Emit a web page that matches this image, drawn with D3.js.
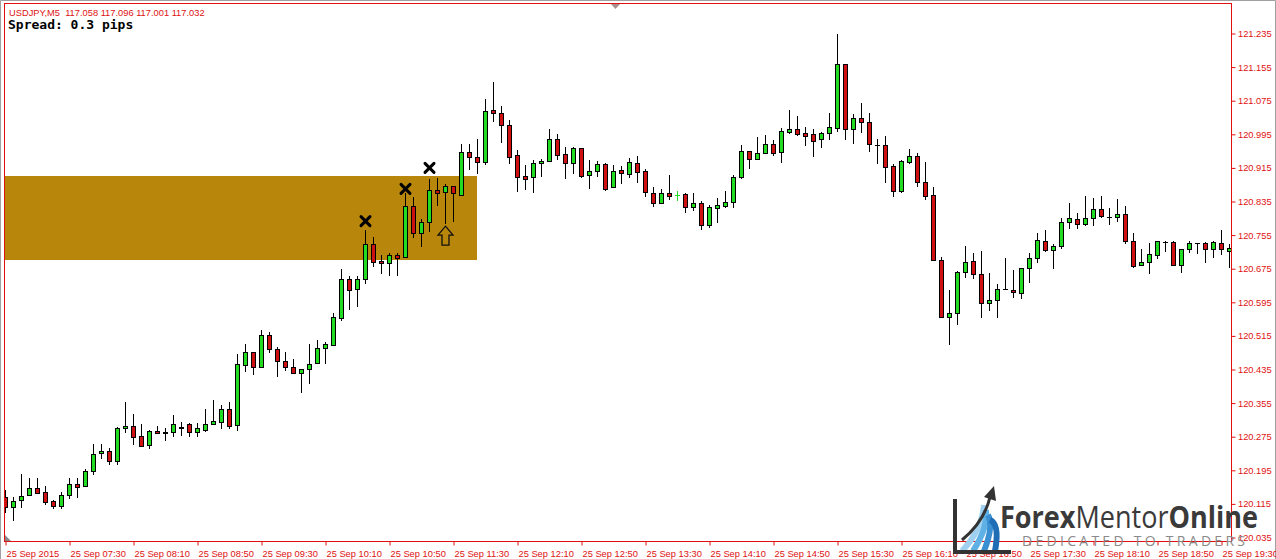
<!DOCTYPE html>
<html><head><meta charset="utf-8">
<script src="https://cdn.jsdelivr.net/npm/d3@7"></script>
<style>html,body{margin:0;padding:0;background:#fff;overflow:hidden}</style>
</head><body>
<svg id="chart" width="1276" height="559"></svg>
<script>
// ---- data ----
const tickLabels = ["25 Sep 2015","25 Sep 07:30","25 Sep 08:10","25 Sep 08:50","25 Sep 09:30","25 Sep 10:10","25 Sep 10:50","25 Sep 11:30","25 Sep 12:10","25 Sep 12:50","25 Sep 13:30","25 Sep 14:10","25 Sep 14:50","25 Sep 15:30","25 Sep 16:10","25 Sep 16:50","25 Sep 17:30","25 Sep 18:10","25 Sep 18:50","25 Sep 19:30"];
const priceTicks = [121.235,121.155,121.075,120.995,120.915,120.835,120.755,120.675,120.595,120.515,120.435,120.355,120.275,120.195,120.115,120.035];

const openP = [120.130,120.106,120.123,120.135,120.152,120.142,120.121,120.109,120.135,120.161,
120.156,120.192,120.235,120.240,120.216,120.295,120.299,120.275,120.254,120.287,
120.283,120.285,120.295,120.304,120.285,120.290,120.304,120.309,120.340,120.302,
120.445,120.475,120.440,120.516,120.483,120.454,120.440,120.425,120.435,120.449,
120.485,120.492,120.556,120.649,120.625,120.649,120.733,120.692,120.687,120.706,
120.702,120.823,120.759,120.785,120.861,120.856,120.871,120.849,120.952,120.940,
120.928,121.052,121.045,121.016,120.945,120.895,120.892,120.926,120.930,120.983,
120.947,120.926,120.961,120.897,120.906,120.923,120.868,120.909,120.899,120.926,
120.906,120.854,120.830,120.854,120.849,120.852,120.821,120.830,120.778,120.818,
120.823,120.833,120.892,120.954,120.935,120.949,120.971,120.952,120.999,121.006,
120.997,120.995,120.983,120.997,121.009,121.161,121.006,121.033,121.023,120.968,
120.968,120.918,120.859,120.928,120.942,120.880,120.849,120.695,120.559,120.568,
120.666,120.692,120.661,120.592,120.599,120.625,120.623,120.616,120.675,120.699,
120.740,120.718,120.728,120.785,120.792,120.780,120.795,120.816,120.797,120.797,
120.804,120.740,120.683,120.690,120.706,120.737,120.737,120.683,120.721,120.735,
120.735,120.721,120.735,120.716];
const highP = [120.147,120.130,120.185,120.175,120.175,120.156,120.123,120.142,120.175,120.175,
120.197,120.256,120.256,120.247,120.297,120.356,120.328,120.304,120.290,120.299,
120.295,120.325,120.309,120.306,120.306,120.340,120.361,120.349,120.356,120.471,
120.495,120.475,120.528,120.523,120.487,120.475,120.459,120.435,120.495,120.504,
120.499,120.568,120.673,120.656,120.656,120.766,120.749,120.706,120.711,120.711,
120.854,120.845,120.792,120.887,120.890,120.875,120.871,120.971,120.971,120.983,
121.078,121.118,121.061,121.028,120.956,120.921,120.933,120.935,121.006,120.995,
120.964,120.964,120.961,120.933,120.930,120.926,120.921,120.918,120.937,120.942,
120.911,120.868,120.864,120.897,120.859,120.854,120.854,120.835,120.825,120.842,
120.859,120.897,120.968,120.954,120.987,120.992,120.980,121.009,121.052,121.037,
121.011,121.006,120.999,121.045,121.233,121.161,121.042,121.068,121.045,120.983,
120.990,120.923,120.933,120.959,120.949,120.928,120.868,120.702,120.623,120.668,
120.728,120.711,120.716,120.664,120.637,120.699,120.671,120.675,120.711,120.759,
120.766,120.733,120.795,120.830,120.806,120.847,120.842,120.847,120.818,120.840,
120.823,120.759,120.721,120.735,120.740,120.740,120.740,120.721,120.740,120.735,
120.737,120.740,120.766,120.733];
const lowP = [120.095,120.075,120.106,120.135,120.140,120.114,120.104,120.104,120.128,120.130,
120.156,120.185,120.223,120.209,120.209,120.285,120.256,120.252,120.247,120.283,
120.266,120.275,120.278,120.275,120.275,120.287,120.304,120.295,120.295,120.290,
120.430,120.423,120.440,120.475,120.418,120.433,120.425,120.380,120.402,120.449,
120.449,120.492,120.552,120.578,120.585,120.640,120.680,120.664,120.659,120.659,
120.702,120.749,120.728,120.764,120.825,120.783,120.787,120.849,120.911,120.902,
120.923,121.026,120.976,120.926,120.859,120.864,120.856,120.895,120.930,120.935,
120.890,120.902,120.892,120.866,120.895,120.861,120.868,120.878,120.892,120.880,
120.847,120.823,120.830,120.840,120.837,120.809,120.814,120.768,120.773,120.785,
120.821,120.821,120.890,120.914,120.935,120.949,120.945,120.928,120.997,120.992,
120.968,120.942,120.964,120.983,121.002,120.983,120.973,120.999,120.954,120.926,
120.880,120.847,120.856,120.926,120.871,120.840,120.695,120.559,120.495,120.542,
120.654,120.652,120.559,120.575,120.559,120.625,120.606,120.604,120.642,120.690,
120.716,120.675,120.723,120.771,120.771,120.778,120.778,120.797,120.780,120.787,
120.735,120.678,120.683,120.664,120.699,120.716,120.683,120.666,120.714,120.711,
120.690,120.702,120.709,120.678];
const closeP = [120.106,120.121,120.133,120.152,120.140,120.118,120.109,120.135,120.161,120.154,
120.192,120.233,120.240,120.216,120.295,120.299,120.273,120.252,120.287,120.283,
120.284,120.304,120.296,120.285,120.295,120.304,120.311,120.340,120.299,120.447,
120.475,120.440,120.516,120.483,120.454,120.440,120.425,120.435,120.447,120.485,
120.495,120.559,120.649,120.623,120.649,120.733,120.690,120.687,120.706,120.699,
120.823,120.759,120.785,120.861,120.854,120.871,120.854,120.952,120.940,120.928,
121.049,121.045,121.016,120.940,120.892,120.887,120.926,120.930,120.983,120.945,
120.926,120.961,120.895,120.906,120.923,120.864,120.906,120.902,120.928,120.904,
120.856,120.830,120.854,120.847,120.850,120.821,120.830,120.778,120.821,120.825,
120.833,120.892,120.954,120.935,120.949,120.971,120.949,121.002,121.006,120.995,
120.990,120.978,120.997,121.011,121.161,121.006,121.033,121.023,120.971,120.968,
120.916,120.859,120.930,120.942,120.880,120.847,120.695,120.559,120.568,120.666,
120.690,120.661,120.592,120.599,120.625,120.625,120.618,120.675,120.699,120.742,
120.718,120.728,120.785,120.795,120.780,120.795,120.816,120.799,120.797,120.804,
120.740,120.680,120.690,120.709,120.740,120.737,120.683,120.721,120.735,120.735,
120.721,120.737,120.721,120.723];

const zoneTop = 120.895, zoneBottom = 120.695, zoneEndIndex = 59;
const crossIndex = [45, 50, 53];
const crossPrice = [120.787, 120.864, 120.914];
const arrowIndex = 55, arrowTopPrice = 120.775, arrowBottomPrice = 120.730;

const headerText = "USDJPY,M5  117.058 117.096 117.001 117.032";
const spreadText = "Spread: 0.3 pips";

// ---- layout ----
const svg = d3.select("#chart");
const frame = {left: 4, top: 3, right: 1231, bottom: 541};
const n = openP.length;
const x = d3.scaleLinear().domain([0, n - 1]).range([5, 5 + (n - 1) * 8]);
const y = d3.scaleLinear().domain([120.035, 121.235]).range([537, 33]);
const GREEN = "#22dc22", RED = "#cf1010", AXIS = "#e01010";

// window border
svg.append("path").attr("d","M0.5,559 V0.5 H1275.5 V559").attr("fill","none").attr("stroke","#a0a0a0");

svg.append("clipPath").attr("id","plotclip").append("rect")
  .attr("x", frame.left + 1).attr("y", frame.top + 1)
  .attr("width", frame.right - frame.left - 1).attr("height", frame.bottom - frame.top - 1);

const plot = svg.append("g").attr("clip-path","url(#plotclip)");

// zone
plot.append("rect")
  .attr("x", frame.left).attr("y", Math.round(y(zoneTop)))
  .attr("width", Math.round(x(zoneEndIndex)) - frame.left)
  .attr("height", Math.round(y(zoneBottom)) - Math.round(y(zoneTop)))
  .attr("fill", "#b8860b");

// candles
const data = d3.range(n).map(i => ({i, o: openP[i], h: highP[i], l: lowP[i], c: closeP[i]}));
const cg = plot.append("g");
data.forEach(d => {
  const cx = Math.round(x(d.i));
  const yT = Math.round(y(Math.max(d.o, d.c)));
  const yB = Math.round(y(Math.min(d.o, d.c)));
  const hgt = yB - yT;
  const up = d.c > d.o;
  const doji = hgt < 1;
  const lineCol = doji && up ? GREEN : "#000";
  cg.append("line").attr("x1", cx + 0.5).attr("x2", cx + 0.5)
    .attr("y1", Math.round(y(d.h))).attr("y2", Math.round(y(d.l)) + 1)
    .attr("stroke", lineCol).attr("stroke-width", 1);
  if (doji) {
    cg.append("line").attr("x1", cx - 2).attr("x2", cx + 3)
      .attr("y1", yT + 0.5).attr("y2", yT + 0.5)
      .attr("stroke", lineCol).attr("stroke-width", 1);
  } else {
    cg.append("rect").attr("x", cx - 1.5).attr("y", yT + 0.5)
      .attr("width", 4).attr("height", hgt)
      .attr("fill", up ? GREEN : RED).attr("stroke", "#000").attr("stroke-width", 1);
  }
});

// cross markers
crossIndex.forEach((ci, k) => {
  const cx = x(ci) + 0.5, cy = y(crossPrice[k]);
  const s = 4.5;
  plot.append("path")
    .attr("d", `M${cx - s},${cy - s}L${cx + s},${cy + s}M${cx + s},${cy - s}L${cx - s},${cy + s}`)
    .attr("stroke", "#000").attr("stroke-width", 3).attr("stroke-linecap", "round").attr("fill", "none");
});

// arrow marker
{
  const ax = x(arrowIndex) + 0.5, yt = y(arrowTopPrice), yb = y(arrowBottomPrice);
  const hw = 7.5, sw = 3.5, hh = 9;
  plot.append("path")
    .attr("d", `M${ax},${yt} L${ax + hw},${yt + hh} L${ax + sw},${yt + hh} L${ax + sw},${yb} L${ax - sw},${yb} L${ax - sw},${yt + hh} L${ax - hw},${yt + hh} Z`)
    .attr("fill", "none").attr("stroke", "#111").attr("stroke-width", 1.3).attr("stroke-linejoin","miter");
}

// frame
svg.append("rect").attr("x", frame.left + 0.5).attr("y", frame.top + 0.5)
  .attr("width", frame.right - frame.left).attr("height", frame.bottom - frame.top)
  .attr("fill", "none").attr("stroke", AXIS);

// top shift marker
svg.append("path").attr("d", `M611,${frame.top + 1} L620,${frame.top + 1} L615.5,${frame.top + 6} Z`).attr("fill", "#a89090");
// bottom-left corner marker
svg.append("path").attr("d", `M${frame.left + 1},${frame.bottom - 6} L${frame.left + 1},${frame.bottom} L${frame.left + 7},${frame.bottom} Z`).attr("fill", "#888");

// x axis
const xAxis = d3.axisBottom(x).tickValues(d3.range(0, n, 8)).tickFormat((d, i) => tickLabels[i]).tickSize(4).tickSizeOuter(0);
const gx = svg.append("g").attr("transform", `translate(0.5,${frame.bottom + 0.5})`).call(xAxis);
gx.select(".domain").remove();
gx.selectAll(".tick line").attr("stroke", AXIS);
gx.selectAll(".tick text").attr("text-anchor", "start").attr("x", 0.5).attr("y", 9).attr("dy", "0.71em")
  .attr("fill", AXIS).style("font-family", "'Liberation Sans', Arial, sans-serif").style("font-size", "9.3px");

// y axis
const yAxis = d3.axisRight(y).tickValues(priceTicks).tickFormat(d3.format(".3f")).tickSize(4).tickSizeOuter(0);
const gy = svg.append("g").attr("transform", `translate(${frame.right + 0.5},0.5)`).call(yAxis);
gy.select(".domain").remove();
gy.selectAll(".tick line").attr("stroke", AXIS);
gy.selectAll(".tick text").attr("x", 6.5).attr("fill", AXIS)
  .style("font-family", "'Liberation Sans', Arial, sans-serif").style("font-size", "9.3px");

// header texts
svg.append("text").attr("x", 9).attr("y", 16).text(headerText)
  .attr("fill", AXIS).style("font-family", "'Liberation Sans', Arial, sans-serif").style("font-size", "9.3px")
  .style("white-space", "pre").attr("xml:space", "preserve");
svg.append("text").attr("x", 8).attr("y", 29).text(spreadText)
  .attr("fill", "#000").style("font-family", "'DejaVu Sans Mono', monospace").style("font-weight", "bold").style("font-size", "13px");

// logo
const logo = svg.append("g");
const blues = ["#9fd0f0", "#5fb0e4", "#3a8fd2", "#1f6db4"];
blues.forEach((col, k) => {
  logo.append("path")
    .attr("d", `M${962 + k * 11},551 Q${982 + k * 6},${530 - k * 2} ${984 + k * 2},${505 + k * 5}`)
    .attr("fill", "none").attr("stroke", col).attr("stroke-width", 6);
});
logo.append("path").attr("d", "M955,499 V552 H1011").attr("fill", "none").attr("stroke", "#333").attr("stroke-width", 4);
logo.append("path").attr("d", "M962,540 Q984,522 990,497").attr("fill", "none").attr("stroke", "#333").attr("stroke-width", 3);
logo.append("path").attr("d", "M984,497 L994,486 L996,501 Z").attr("fill", "#333");
const lt = logo.append("text").attr("x", 1000).attr("y", 528)
  .attr("textLength", 258).attr("lengthAdjust", "spacingAndGlyphs")
  .style("font-family", "'Open Sans', 'Noto Sans', sans-serif").style("font-size", "31px").attr("fill", "#3a3a3a");
lt.append("tspan").text("Forex").style("font-weight", "bold");
lt.append("tspan").text("Mentor").style("font-weight", "normal");
lt.append("tspan").text("Online").style("font-weight", "bold");
logo.append("text").attr("x", 1022).attr("y", 546).text("DEDICATED TO TRADERS")
  .attr("textLength", 223).attr("lengthAdjust", "spacing")
  .style("font-family", "'Open Sans', 'Noto Sans', sans-serif").style("font-size", "14px").attr("fill", "#8a8a8a");
</script>
</body></html>
